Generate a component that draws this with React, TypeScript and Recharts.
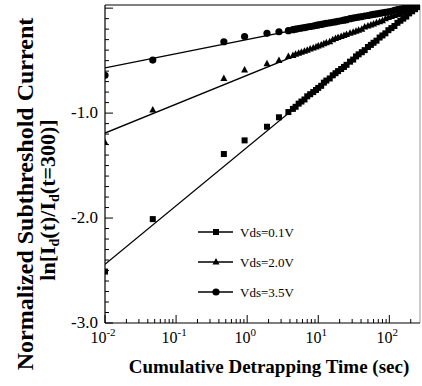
import { ComposedChart, Legend, Line, ReferenceLine, Scatter, XAxis, YAxis } from "recharts"

// measurement times (sec), shared by the three bias conditions
const times = [
  0.01, 0.047, 0.47, 0.92, 1.9, 2.8, 3.8, 4.4, 4.8, 5.3, 5.8, 6.4, 7, 7.7, 8.5, 9.3, 10, 11, 12, 13, 14.5, 16, 17.5,
  19, 21, 23, 25, 28, 31, 34, 37, 41, 45, 50, 55, 60, 66, 73, 80, 88, 97, 107, 118, 130, 143, 157, 173, 190, 209,
  230, 253, 270,
]
const vds01 = [
  -2.51, -2.01, -1.39, -1.26, -1.13, -1.04, -0.99, -0.96, -0.94, -0.91, -0.89, -0.87, -0.84, -0.82, -0.8, -0.78,
  -0.76, -0.74, -0.71, -0.69, -0.67, -0.64, -0.62, -0.6, -0.58, -0.56, -0.54, -0.51, -0.49, -0.46, -0.44, -0.42,
  -0.4, -0.37, -0.35, -0.33, -0.31, -0.28, -0.26, -0.24, -0.21, -0.19, -0.17, -0.14, -0.12, -0.1, -0.08, -0.05,
  -0.03, -0.01, 0.01, 0.02,
]
const vds20 = [
  -1.28, -0.97, -0.67, -0.59, -0.53, -0.5, -0.46, -0.45, -0.44, -0.43, -0.42, -0.41, -0.4, -0.39, -0.38, -0.37,
  -0.36, -0.35, -0.34, -0.33, -0.32, -0.3, -0.29, -0.28, -0.27, -0.26, -0.25, -0.24, -0.23, -0.22, -0.21, -0.2,
  -0.18, -0.17, -0.16, -0.15, -0.14, -0.13, -0.12, -0.1, -0.09, -0.08, -0.07, -0.06, -0.05, -0.04, -0.025, -0.015,
  -0.005, 0.005, 0.015, 0.025,
]
const vds35 = [
  -0.64, -0.495, -0.32, -0.27, -0.24, -0.225, -0.215, -0.205, -0.2, -0.195, -0.19, -0.185, -0.18, -0.175, -0.17,
  -0.165, -0.16, -0.155, -0.15, -0.145, -0.14, -0.135, -0.13, -0.125, -0.12, -0.115, -0.11, -0.1, -0.095, -0.09,
  -0.085, -0.08, -0.075, -0.07, -0.065, -0.06, -0.055, -0.05, -0.045, -0.04, -0.035, -0.03, -0.02, -0.015, -0.01,
  -0.005, 0.0, 0.005, 0.01, 0.015, 0.02, 0.025,
]

// fitted straight lines (ln I vs log t)
const fitTimes = [0.01, 270]
const fit01 = [-2.44, 0.03]
const fit20 = [-1.19, 0.03]
const fit35 = [-0.57, 0.03]

const decades = [-2, -1, 0, 1, 2]
const yMajorLabels: Record<string, string> = { "-3": "-3.0", "-2": "-2.0", "-1": "-1.0" }
const legendLabels = ["Vds=0.1V", "Vds=2.0V", "Vds=3.5V"]

const W = 422
const H = 386
const LEFT = 105
const TOP = 5
const BOTTOM = 323
const X_MAX = 270
const Y_MIN = -3
const Y_MAX = 0.03
const FONT = "'Liberation Serif', 'Times New Roman', serif"

const toRows = (vals: number[]) => vals.map((v, i) => ({ t: times[i], v }))
const fitRows = (vals: number[]) => vals.map((v, i) => ({ t: fitTimes[i], v }))

const xTicks: number[] = []
decades.forEach((e) => {
  for (let m = 1; m <= 9; m++) {
    const v = Number((m * Math.pow(10, e)).toPrecision(3))
    if (v <= X_MAX) xTicks.push(v)
  }
})
const yTicks = Array.from({ length: 31 }, (_, i) => Math.round((Y_MIN + i * 0.1) * 10) / 10)

const Square = (props: any) => <rect x={props.cx - 3} y={props.cy - 3} width={6} height={6} fill="#000" />
const Triangle = (props: any) => (
  <polygon
    points={`${props.cx},${props.cy - 4} ${props.cx - 3.5},${props.cy + 2.5} ${props.cx + 3.5},${props.cy + 2.5}`}
    fill="#000"
  />
)
const Dot = (props: any) => <circle cx={props.cx} cy={props.cy} r={3.6} fill="#000" />

function XTick(props: any) {
  const { x, payload } = props
  const lg = Math.log10(payload.value)
  const e = Math.round(lg)
  const major = Math.abs(lg - e) < 1e-6
  return (
    <g>
      <line x1={x} x2={x} y1={BOTTOM} y2={BOTTOM - (major ? 8 : 4)} stroke="#000" strokeWidth={1} />
      {major && (
        <text x={x - 2} y={343} textAnchor="middle" fontFamily={FONT} fontSize={16} fill="#000">
          10
          <tspan dy={-7} fontSize={11}>
            {e}
          </tspan>
        </text>
      )}
    </g>
  )
}

function YTick(props: any) {
  const { y, payload } = props
  const v = payload.value
  const major = Number.isInteger(v)
  const label = yMajorLabels[String(v)]
  return (
    <g>
      <line x1={LEFT} x2={LEFT + (major ? 8 : 4)} y1={y} y2={y} stroke="#000" strokeWidth={1} />
      {label && (
        <text x={LEFT - 7} y={y + 5} textAnchor="end" fontFamily={FONT} fontSize={17} fill="#000">
          {label}
        </text>
      )}
    </g>
  )
}

function YTitle() {
  return (
    <g fontFamily={FONT} fontWeight="bold" fill="#000">
      <text x={33} y={194} fontSize={24} textAnchor="middle" transform="rotate(-90 33 194)">
        Normalized Subthreshold Current
      </text>
      <text x={55} y={200} fontSize={22} textAnchor="middle" transform="rotate(-90 55 200)">
        ln[I<tspan fontSize={14} dy={4}>d</tspan>
        <tspan dy={-4}>(t)/I</tspan>
        <tspan fontSize={14} dy={4}>d</tspan>
        <tspan dy={-4}>(t=300)]</tspan>
      </text>
    </g>
  )
}

function XTitle() {
  return (
    <text x={269} y={373} textAnchor="middle" fontFamily={FONT} fontWeight="bold" fontSize={19} fill="#000">
      Cumulative Detrapping Time (sec)
    </text>
  )
}

const markers = [Square, Triangle, Dot]

function LegendBox() {
  return (
    <svg width={140} height={95}>
      {legendLabels.map((label, i) => {
        const cy = 17 + i * 30
        const M = markers[i]
        return (
          <g key={label}>
            <line x1={8} x2={43} y1={cy} y2={cy} stroke="#000" strokeWidth={1.3} />
            <M cx={26} cy={cy} />
            <text x={50} y={cy + 5} fontFamily={FONT} fontSize={13} fill="#000">
              {label}
            </text>
          </g>
        )
      })}
    </svg>
  )
}

export default function App() {
  return (
    <div style={{ position: "absolute", left: 0, top: 0, background: "#fff" }}>
      <ComposedChart width={W} height={H} margin={{ top: TOP, right: W - LEFT - 315, left: 0, bottom: 0 }}>
        <XAxis
          dataKey="t"
          type="number"
          scale="log"
          domain={[0.01, X_MAX]}
          allowDataOverflow
          ticks={xTicks}
          interval={0}
          tick={<XTick />}
          tickLine={false}
          axisLine={{ stroke: "#000", strokeWidth: 1.2 }}
          height={H - BOTTOM}
          label={<XTitle />}
        />
        <YAxis
          type="number"
          domain={[Y_MIN, Y_MAX]}
          allowDataOverflow
          ticks={yTicks}
          interval={0}
          tick={<YTick />}
          tickLine={false}
          axisLine={{ stroke: "#000", strokeWidth: 1.2 }}
          width={LEFT}
          label={<YTitle />}
        />
        <ReferenceLine y={Y_MAX} stroke="#000" strokeWidth={1} />
        <ReferenceLine x={X_MAX} stroke="#999" strokeWidth={1} />
        <Line data={fitRows(fit01)} dataKey="v" type="linear" dot={false} stroke="#000" strokeWidth={1.3} isAnimationActive={false} />
        <Line data={fitRows(fit20)} dataKey="v" type="linear" dot={false} stroke="#000" strokeWidth={1.3} isAnimationActive={false} />
        <Line data={fitRows(fit35)} dataKey="v" type="linear" dot={false} stroke="#000" strokeWidth={1.3} isAnimationActive={false} />
        <Scatter data={toRows(vds01)} dataKey="v" shape={Square} isAnimationActive={false} />
        <Scatter data={toRows(vds20)} dataKey="v" shape={Triangle} isAnimationActive={false} />
        <Scatter data={toRows(vds35)} dataKey="v" shape={Dot} isAnimationActive={false} />
        <Legend
          layout="vertical"
          align="center"
          verticalAlign="middle"
          content={() => <LegendBox />}
          wrapperStyle={{ left: 190, top: 215, width: 140 }}
        />
      </ComposedChart>
    </div>
  )
}
